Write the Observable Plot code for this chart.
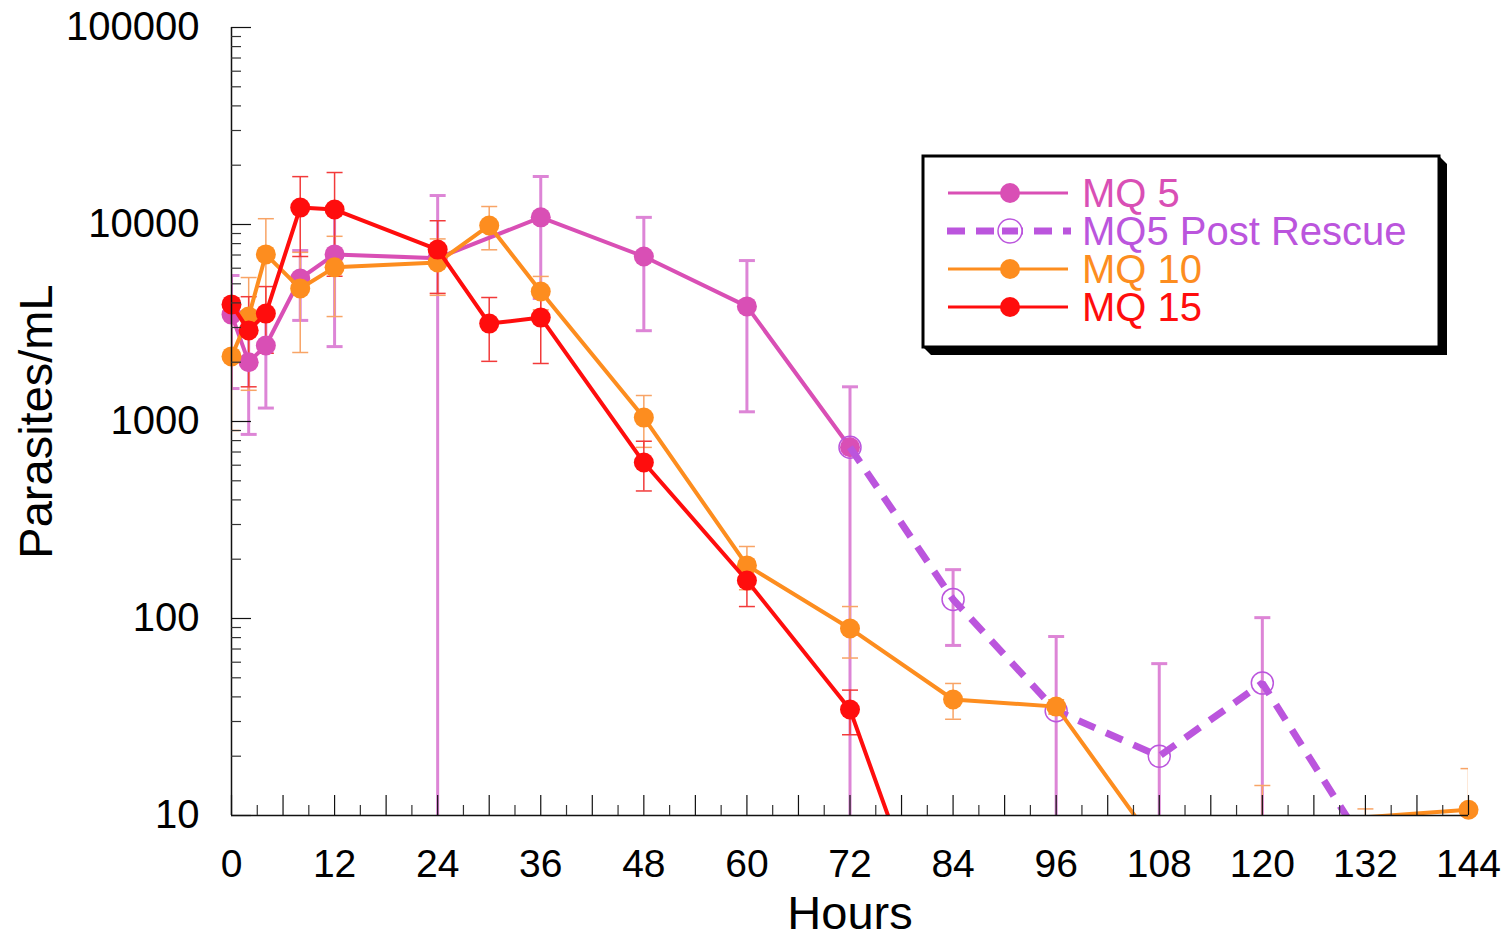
<!DOCTYPE html>
<html>
<head>
<meta charset="utf-8">
<script src="https://cdn.jsdelivr.net/npm/d3@7"></script>
<script src="https://cdn.jsdelivr.net/npm/@observablehq/plot@0.6"></script>
<style>
  body { margin: 0; background: #fff; }
  #wrap { position: relative; width: 1511px; height: 950px; font-family: "Liberation Sans", Arial, Helvetica, sans-serif; }
  #wrap svg { display: block; }
  #legend { position: absolute; left: 0; top: 0; }
</style>
</head>
<body>
<div id="wrap"></div>
<script>
// ---------------- data ----------------
const seriesNames = ["MQ 5", "MQ5 Post Rescue", "MQ 10", "MQ 15"];
const seriesColors = ["#d94fb5", "#bb55dd", "#fd8d1f", "#ff0d0d"];
const errorColors = ["#dd85d6", "#dd85d6", "#f8a466", "#f23a3a"];

const mq5Hours = [0, 2, 4, 8, 12, 24, 36, 48, 60, 72];
const mq5Mean  = [3490, 2000, 2430, 5320, 7050, 6750, 10870, 6880, 3840, 740];
const mq5SD    = [2020, 1140, 1260, 2060, 4650, 7280, 6660, 3990, 2720, 760];

const rescueHours = [72, 84, 96, 108, 120, 132];
const rescueMean  = [740, 125, 34, 20, 47, 7];
const rescueSD    = [null, 52, 47, 39, 54, null];

const mq10Hours = [0, 2, 4, 8, 12, 24, 30, 36, 48, 60, 72, 84, 96, 108, 120, 132, 144];
const mq10Mean  = [2140, 3410, 7050, 4730, 6060, 6410, 9890, 4570, 1047, 186, 89, 38.8, 35.7, 6.7, 5, 9.8, 10.7];
const mq10SD    = [1240, 1970, 3650, 2490, 2650, 2040, 2450, 880, 308, 46, 26, 8, 3, 2, 9.2, 1, 6.6];

const mq15Hours = [0, 2, 4, 8, 12, 24, 30, 36, 48, 60, 72, 84];
const mq15Mean  = [3930, 2900, 3530, 12190, 11910, 7460, 3140, 3370, 619, 156, 34.5, 1.2];
const mq15SD    = [300, 1400, 1310, 5310, 6450, 2990, 1120, 1400, 175, 41, 8.8, null];

const yMajorTicks = [10, 100, 1000, 10000, 100000];
const xLabelTicks = [0, 12, 24, 36, 48, 60, 72, 84, 96, 108, 120, 132, 144];

// ---------------- build tables ----------------
const rows = (hours, means, sds) => hours.map((h, i) => ({h, v: means[i], sd: sds[i]}));
const mq5 = rows(mq5Hours, mq5Mean, mq5SD);
const rescue = rows(rescueHours, rescueMean, rescueSD);
const mq10 = rows(mq10Hours, mq10Mean, mq10SD);
const mq15 = rows(mq15Hours, mq15Mean, mq15SD);

const yMinorTicks = [];
for (const d of yMajorTicks.slice(0, -1)) for (let k = 2; k <= 9; k++) yMinorTicks.push(d * k);
const xMajorTicks = d3.range(0, 145, 6);
const xMinorTicks = d3.range(3, 145, 6);

const capSymbol = {
  draw(ctx, size) {
    const w = Math.sqrt(size / Math.PI);
    ctx.moveTo(-w, 0);
    ctx.lineTo(w, 0);
  }
};

function errorMarks(data, color, width, capR) {
  const d = data.filter(r => r.sd != null && r.sd > 0);
  const lo = r => (r.v - r.sd > 0 ? r.v - r.sd : 1e-3);
  const hi = r => r.v + r.sd;
  return [
    Plot.ruleX(d, {x: "h", y1: lo, y2: hi, stroke: color, strokeWidth: width, clip: true}),
    Plot.dot(d, {x: "h", y: hi, symbol: capSymbol, r: capR, stroke: color, strokeWidth: width, fill: "none", clip: true}),
    Plot.dot(d.filter(r => r.v - r.sd > 0), {x: "h", y: lo, symbol: capSymbol, r: capR, stroke: color, strokeWidth: width, fill: "none", clip: true})
  ];
}

const visible = d => d.v >= 10;

const chart = Plot.plot({
  width: 1511,
  height: 950,
  marginLeft: 231,
  marginRight: 43,
  marginTop: 27,
  marginBottom: 135,
  style: {fontFamily: '"Liberation Sans", Arial, Helvetica, sans-serif', color: "#000", background: "#fff", overflow: "visible"},
  x: {domain: [0, 144], axis: null},
  y: {type: "log", domain: [10, 100000], axis: null},
  marks: [
    // error bars
    ...errorMarks(mq5, errorColors[0], 3, 8),
    ...errorMarks(rescue, errorColors[1], 3, 8),
    ...errorMarks(mq10, errorColors[2], 1.5, 8),
    ...errorMarks(mq15, errorColors[3], 1.5, 8),
    // MQ 5
    Plot.line(mq5, {x: "h", y: "v", stroke: seriesColors[0], strokeWidth: 4, clip: true}),
    Plot.dot(mq5.filter(visible), {x: "h", y: "v", r: 10, fill: seriesColors[0], stroke: "none"}),
    // MQ5 post rescue
    Plot.line(rescue, {x: "h", y: "v", stroke: seriesColors[1], strokeWidth: 7, strokeDasharray: "18,12", strokeLinecap: "butt", strokeLinejoin: "miter", clip: true}),
    Plot.dot(rescue.filter(visible), {x: "h", y: "v", r: 11, fill: "none", stroke: seriesColors[1], strokeWidth: 1.5}),
    // MQ 10
    Plot.line(mq10, {x: "h", y: "v", stroke: seriesColors[2], strokeWidth: 4, clip: true}),
    Plot.dot(mq10.filter(visible), {x: "h", y: "v", r: 10, fill: seriesColors[2], stroke: "none"}),
    // MQ 15
    Plot.line(mq15, {x: "h", y: "v", stroke: seriesColors[3], strokeWidth: 4, clip: true}),
    Plot.dot(mq15.filter(visible), {x: "h", y: "v", r: 10, fill: seriesColors[3], stroke: "none"}),
    // axis lines
    Plot.ruleX([0], {stroke: "#111", strokeWidth: 1.5}),
    Plot.ruleY([10], {stroke: "#111", strokeWidth: 1.5}),
    // y ticks (inward)
    Plot.axisY({ticks: yMajorTicks, tickSize: -20, fill: "none", label: null, stroke: "#111", strokeWidth: 1.2}),
    Plot.axisY({ticks: yMinorTicks, tickSize: -10, fill: "none", label: null, stroke: "#333", strokeWidth: 1.2}),
    Plot.axisY({ticks: yMajorTicks, tickSize: 0, tickPadding: 32, tickFormat: d3.format("d"), fontSize: 40, label: null, fill: "#000"}),
    // x ticks (inward)
    Plot.axisX({ticks: xMajorTicks, tickSize: -20, fill: "none", label: null, stroke: "#111", strokeWidth: 1.2}),
    Plot.axisX({ticks: xMinorTicks, tickSize: -10, fill: "none", label: null, stroke: "#333", strokeWidth: 1.2}),
    Plot.axisX({ticks: xLabelTicks, tickSize: 0, tickPadding: 34, tickFormat: d3.format("d"), fontSize: 39, label: null, fill: "#000"}),
    // axis titles
    Plot.text(["Hours"], {frameAnchor: "bottom", textAnchor: "middle", dy: 113, fontSize: 47, fill: "#000"}),
    Plot.text(["Parasites/mL"], {frameAnchor: "left", textAnchor: "middle", dx: -195, rotate: -90, fontSize: 47, fill: "#000"})
  ]
});

const wrap = document.getElementById("wrap");
wrap.appendChild(chart);

// ---------------- legend overlay ----------------
const lg = d3.select(wrap).append("svg")
  .attr("id", "legend")
  .attr("width", 1511).attr("height", 950)
  .style("pointer-events", "none");

const L = 923, T = 156, R = 1439, B = 347, S = 8;
lg.append("polygon")
  .attr("points", [[R, T], [R + S, T + S], [R + S, B + S], [L + S, B + S], [L, B], [R, B]].map(p => p.join(",")).join(" "))
  .attr("fill", "#000");
lg.append("rect").attr("x", L).attr("y", T).attr("width", R - L).attr("height", B - T)
  .attr("fill", "#fff").attr("stroke", "#000").attr("stroke-width", 3);

const rowY = [193, 231, 269, 307];
seriesNames.forEach((name, i) => {
  const y = rowY[i];
  const g = lg.append("g");
  if (i === 1) {
    g.append("line").attr("x1", 947).attr("x2", 1071).attr("y1", y).attr("y2", y)
      .attr("stroke", seriesColors[i]).attr("stroke-width", 7).attr("stroke-dasharray", "18,11");
    g.append("circle").attr("cx", 1010).attr("cy", y).attr("r", 12)
      .attr("fill", "#fff").attr("stroke", seriesColors[i]).attr("stroke-width", 1.5);
    g.append("line").attr("x1", 1002).attr("x2", 1018).attr("y1", y).attr("y2", y)
      .attr("stroke", seriesColors[i]).attr("stroke-width", 7);
  } else {
    g.append("line").attr("x1", 948).attr("x2", 1068).attr("y1", y).attr("y2", y)
      .attr("stroke", seriesColors[i]).attr("stroke-width", 3);
    g.append("circle").attr("cx", 1010).attr("cy", y).attr("r", 10).attr("fill", seriesColors[i]);
  }
  g.append("text").attr("x", 1082).attr("y", y + 14)
    .attr("font-size", 40)
    .attr("font-family", '"Liberation Sans", Arial, Helvetica, sans-serif')
    .attr("fill", seriesColors[i])
    .text(name);
});
</script>
</body>
</html>
